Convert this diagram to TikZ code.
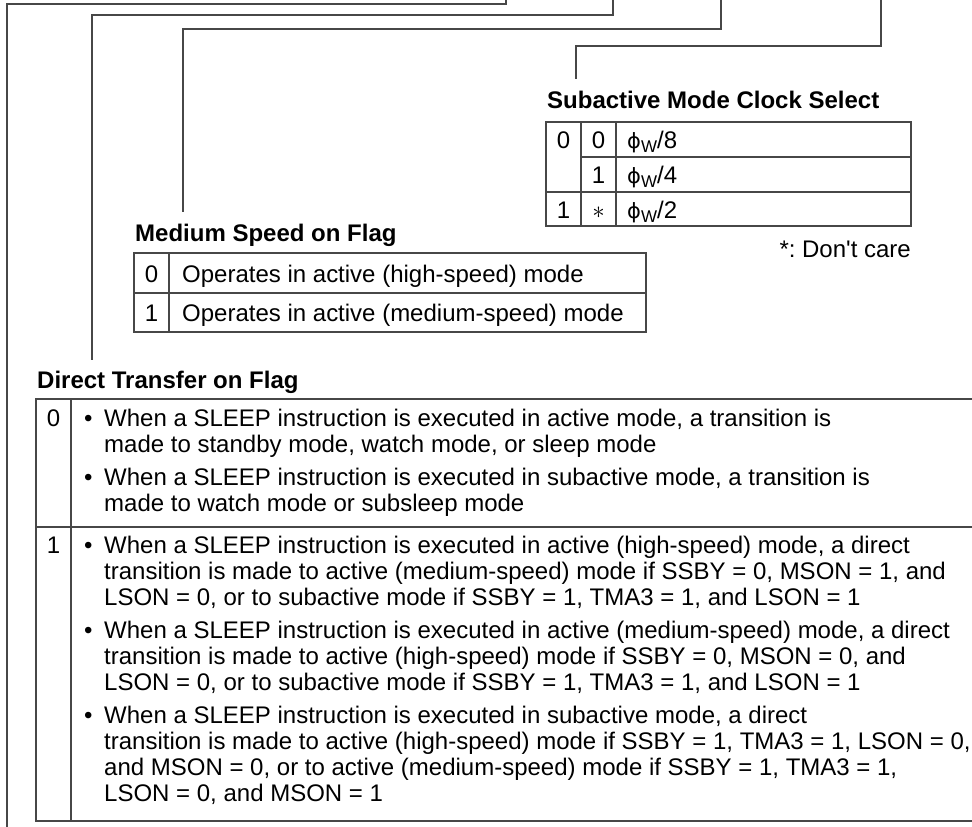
\documentclass[tikz,border=0pt]{standalone}
\usepackage{fontspec}
\setmainfont{Liberation Sans}
\newfontfamily\dvs{DejaVu Sans}
\newcommand\phiw[1]{{\dvs\fontsize{21}{21}\selectfont ϕ}\raisebox{-4pt}{\fontsize{17}{17}\selectfont W}/#1}
\frenchspacing
\begin{document}
\begin{tikzpicture}[x=1pt,y=-1pt,
  ln/.style={line width=1.1pt,draw=black!72},
  txt/.style={inner sep=0pt,anchor=base west,font=\fontsize{24}{26}\selectfont},
  ctxt/.style={inner sep=0pt,anchor=base,font=\fontsize{24}{26}\selectfont},
  ttl/.style={inner sep=0pt,anchor=base west,font=\bfseries\fontsize{24}{26}\selectfont}]
\useasboundingbox (0,0) rectangle (972,827);

% leader lines
\coordinate (a0) at (506,0); \coordinate (a1) at (506,4); \coordinate (a2) at (7,4); \coordinate (a3) at (7,827);
\coordinate (b0) at (613,0); \coordinate (b1) at (613,15); \coordinate (b2) at (92,15); \coordinate (b3) at (92,360);
\coordinate (c0) at (721,0); \coordinate (c1) at (721,29); \coordinate (c2) at (183,29); \coordinate (c3) at (183,212);
\coordinate (d0) at (881,0); \coordinate (d1) at (881,46); \coordinate (d2) at (576,46); \coordinate (d3) at (576,79);
\draw[ln] (a0) -- (a1) -- (a2) -- (a3);
\draw[ln] (b0) -- (b1) -- (b2) -- (b3);
\draw[ln] (c0) -- (c1) -- (c2) -- (c3);
\draw[ln] (d0) -- (d1) -- (d2) -- (d3);

% Subactive Mode Clock Select
\node[ttl] (stitle) at (547,108) {Subactive Mode Clock Select};
\draw[ln] (546,122) rectangle (911,226);
\draw[ln] (581,157) -- (911,157);
\draw[ln] (546,192) -- (911,192);
\draw[ln] (581,122) -- (581,226);
\draw[ln] (616,122) -- (616,226);
\node[ctxt] (s00) at (563.5,148) {0};
\node[ctxt] (s01) at (598.5,148) {0};
\node[txt] (s02) at (627,148) {\phiw{8}};
\node[ctxt] (s11) at (598.5,183) {1};
\node[txt] (s12) at (627,183) {\phiw{4}};
\node[ctxt] (s20) at (563.5,218) {1};
\node[ctxt] (s21) at (598.5,218) {$\ast$};
\node[txt] (s22) at (627,218) {\phiw{2}};
\node[inner sep=0pt,anchor=base east,font=\fontsize{24}{26}\selectfont] (dc) at (911,257) {*: Don\textquotesingle t care};

% Medium Speed on Flag
\node[ttl] (mtitle) at (135,241) {Medium Speed on Flag};
\draw[ln] (134,253) rectangle (646,332);
\draw[ln] (134,293) -- (646,293);
\draw[ln] (169,253) -- (169,332);
\node[ctxt] (m0) at (151.5,282) {0};
\node[txt] (m0t) at (182,282) {Operates in active (high-speed) mode};
\node[ctxt] (m1) at (151.5,321) {1};
\node[txt] (m1t) at (182,321) {Operates in active (medium-speed) mode};

% Direct Transfer on Flag
\node[ttl] (dtitle) at (37,388) {Direct Transfer on Flag};
\draw[ln] (972,399) -- (36,399) -- (36,821) -- (972,821);
\draw[ln] (36,527) -- (972,527);
\draw[ln] (71,399) -- (71,821);
\node[ctxt] (d0v) at (53.5,426) {0};
\node[txt] (d0b1) at (84,426) {•};
\node[txt] (d0l1) at (104,426) {When a SLEEP instruction is executed in active mode, a transition is};
\node[txt] (d0l2) at (104,452) {made to standby mode, watch mode, or sleep mode};
\node[txt] (d0b2) at (84,485) {•};
\node[txt] (d0l3) at (104,485) {When a SLEEP instruction is executed in subactive mode, a transition is};
\node[txt] (d0l4) at (104,511) {made to watch mode or subsleep mode};

\node[ctxt] (d1v) at (53.5,553) {1};
\node[txt] (d1b1) at (84,553) {•};
\node[txt] (d1l1) at (104,553) {When a SLEEP instruction is executed in active (high-speed) mode, a direct};
\node[txt] (d1l2) at (104,579) {transition is made to active (medium-speed) mode if SSBY = 0, MSON = 1, and};
\node[txt] (d1l3) at (104,605) {LSON = 0, or to subactive mode if SSBY = 1, TMA3 = 1, and LSON = 1};
\node[txt] (d1b2) at (84,638) {•};
\node[txt] (d1l4) at (104,638) {When a SLEEP instruction is executed in active (medium-speed) mode, a direct};
\node[txt] (d1l5) at (104,664) {transition is made to active (high-speed) mode if SSBY = 0, MSON = 0, and};
\node[txt] (d1l6) at (104,690) {LSON = 0, or to subactive mode if SSBY = 1, TMA3 = 1, and LSON = 1};
\node[txt] (d1b3) at (84,723) {•};
\node[txt] (d1l7) at (104,723) {When a SLEEP instruction is executed in subactive mode, a direct};
\node[txt] (d1l8) at (104,749) {transition is made to active (high-speed) mode if SSBY = 1, TMA3 = 1, LSON = 0,};
\node[txt] (d1l9) at (104,775) {and MSON = 0, or to active (medium-speed) mode if SSBY = 1, TMA3 = 1,};
\node[txt] (d1l10) at (104,801) {LSON = 0, and MSON = 1};
\end{tikzpicture}
\end{document}
